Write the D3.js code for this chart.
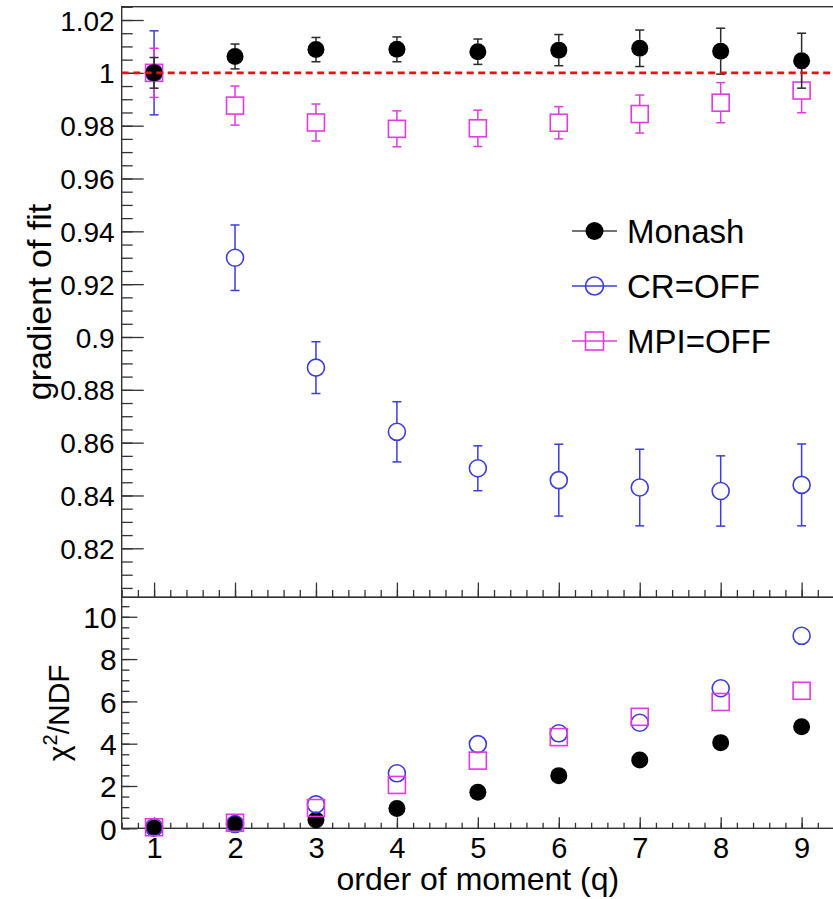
<!DOCTYPE html>
<html>
<head>
<meta charset="utf-8">
<script src="https://cdn.jsdelivr.net/npm/d3@7"></script>
<style>
  html, body { margin: 0; padding: 0; background: #fff; }
  svg { display: block; }
</style>
</head>
<body>
<svg id="chart" width="833" height="899"></svg>
<script>
// ---------------- data ----------------
const q = [1, 2, 3, 4, 5, 6, 7, 8, 9];

const monashGrad    = [1.0000, 1.0062, 1.0088, 1.0089, 1.0080, 1.0086, 1.0093, 1.0082, 1.0046];
const monashGradErr = [0.0058, 0.0047, 0.0046, 0.0047, 0.0048, 0.0059, 0.0069, 0.0087, 0.0104];

const crGrad    = [1.0000, 0.9300, 0.8884, 0.8641, 0.8503, 0.8458, 0.8430, 0.8417, 0.8440];
const crGradErr = [0.0159, 0.0124, 0.0098, 0.0114, 0.0085, 0.0136, 0.0145, 0.0133, 0.0155];

const mpiGrad    = [1.0000, 0.9876, 0.9812, 0.9788, 0.9790, 0.9811, 0.9844, 0.9887, 0.9933];
const mpiGradErr = [0.0093, 0.0074, 0.0070, 0.0068, 0.0069, 0.0061, 0.0072, 0.0076, 0.0084];

const monashChi2 = [0.00, 0.20, 0.39, 0.94, 1.70, 2.49, 3.23, 4.05, 4.80];
const crChi2     = [0.05, 0.20, 1.13, 2.60, 3.98, 4.49, 4.99, 6.62, 9.10];
const mpiChi2    = [0.05, 0.26, 0.96, 2.05, 3.20, 4.31, 5.27, 5.97, 6.50];

const seriesNames = ["Monash", "CR=OFF", "MPI=OFF"];
const topTickValues = [0.82, 0.84, 0.86, 0.88, 0.9, 0.92, 0.94, 0.96, 0.98, 1, 1.02];
const topTickLabels = ["0.82", "0.84", "0.86", "0.88", "0.9", "0.92", "0.94", "0.96", "0.98", "1", "1.02"];
const botTickValues = [0, 2, 4, 6, 8, 10];
const botTickLabels = ["0", "2", "4", "6", "8", "10"];
const xTickLabels = ["1", "2", "3", "4", "5", "6", "7", "8", "9"];
const refValue = 1;

// ---------------- styling ----------------
const FONT = "'Liberation Sans', Arial, Helvetica, sans-serif";
const colors = { "Monash": "#000000", "CR=OFF": "#3c3cdc", "MPI=OFF": "#e23ae2" };
const barColors = { "Monash": "#2a2a2a", "CR=OFF": "#3c3cdc", "MPI=OFF": "#e23ae2" };
const markerR = 8.5, squareHalf = 8.5, capHalf = 4.5;

const svg = d3.select("#chart");

// layout
const left = 121.7, right = 834;
const topY0 = 6.7, topY1 = 597.3;
const botY0 = 597.3, botY1 = 828.3;

const x = d3.scaleLinear().domain([0.6, 9.4]).range([left, right]);
const yTop = d3.scaleLinear().domain([0.80145, 1.02504]).range([topY1, topY0]);
const yBot = d3.scaleLinear().domain([0, 10.92]).range([botY1, botY0]);

const axisColor = "#333";

// ---------------- frames ----------------
function frame(y0, y1) {
  svg.append("rect")
    .attr("x", left).attr("y", y0)
    .attr("width", right - left).attr("height", y1 - y0)
    .attr("fill", "none").attr("stroke", axisColor).attr("stroke-width", 1.4);
}

// ---------------- axes ----------------
function styleAxis(g, fs) {
  g.select(".domain").remove();
  g.selectAll(".tick line").attr("stroke", axisColor).attr("stroke-width", 1.3);
  g.selectAll("text").attr("font-family", FONT).attr("font-size", fs).attr("fill", "#000");
}

// top panel y axis
const topMinor = d3.range(0.805, 1.0251, 0.005);
svg.append("g").attr("transform", `translate(${left},0)`)
  .call(d3.axisLeft(yTop).tickValues(topMinor).tickSize(-11).tickFormat(""))
  .call(g => styleAxis(g, 28));
svg.append("g").attr("transform", `translate(${left},0)`)
  .call(d3.axisLeft(yTop).tickValues(topTickValues).tickSize(-22).tickPadding(7)
        .tickFormat((d, i) => topTickLabels[i]))
  .call(g => styleAxis(g, 28))
  .call(g => g.selectAll("text").attr("dy", "0.36em"));

// top panel x axis (ticks only)
const xMinor = d3.range(0.6, 9.41, 0.2);
svg.append("g").attr("transform", `translate(0,${topY1})`)
  .call(d3.axisBottom(x).tickValues(xMinor).tickSize(-7.3).tickFormat(""))
  .call(g => styleAxis(g, 28));
svg.append("g").attr("transform", `translate(0,${topY1})`)
  .call(d3.axisBottom(x).tickValues(q).tickSize(-14.7).tickFormat(""))
  .call(g => styleAxis(g, 28));

// bottom panel y axis
const botMinor = d3.range(0, 10.9, 0.5);
svg.append("g").attr("transform", `translate(${left},0)`)
  .call(d3.axisLeft(yBot).tickValues(botMinor).tickSize(-7.7).tickFormat(""))
  .call(g => styleAxis(g, 29));
svg.append("g").attr("transform", `translate(${left},0)`)
  .call(d3.axisLeft(yBot).tickValues(botTickValues).tickSize(-15.7).tickPadding(5)
        .tickFormat((d, i) => botTickLabels[i]))
  .call(g => styleAxis(g, 30))
  .call(g => g.selectAll("text").attr("dy", "0.36em"));

// bottom panel x axis
svg.append("g").attr("transform", `translate(0,${botY1})`)
  .call(d3.axisBottom(x).tickValues(xMinor).tickSize(-5.5).tickFormat(""))
  .call(g => styleAxis(g, 29));
svg.append("g").attr("transform", `translate(0,${botY1})`)
  .call(d3.axisBottom(x).tickValues(q).tickSize(-11).tickPadding(9)
        .tickFormat((d, i) => xTickLabels[i]))
  .call(g => styleAxis(g, 29));

frame(topY0, topY1);
frame(botY0, botY1);

// ---------------- axis titles ----------------
svg.append("text")
  .attr("x", (left + right) / 2).attr("y", 890)
  .attr("text-anchor", "middle")
  .attr("font-family", FONT).attr("font-size", 32)
  .text("order of moment (q)");

svg.append("text")
  .attr("transform", `translate(51,${(topY0 + topY1) / 2}) rotate(-90)`)
  .attr("text-anchor", "middle")
  .attr("font-family", FONT).attr("font-size", 34)
  .text("gradient of fit");

const chiT = svg.append("text")
  .attr("transform", `translate(69,${(botY0 + botY1) / 2}) rotate(-90)`)
  .attr("text-anchor", "middle")
  .attr("font-family", FONT).attr("font-size", 30);
chiT.append("tspan").text("χ");
chiT.append("tspan").attr("font-size", 20).attr("dy", -12).text("2");
chiT.append("tspan").attr("dy", 12).text("/NDF");

// ---------------- markers ----------------
function drawMarker(g, name, cx, cy, r) {
  const c = colors[name];
  if (name === "Monash") {
    g.append("circle").attr("cx", cx).attr("cy", cy).attr("r", r).attr("fill", c);
  } else if (name === "CR=OFF") {
    g.append("circle").attr("cx", cx).attr("cy", cy).attr("r", r)
      .attr("fill", "none").attr("stroke", c).attr("stroke-width", 1.6);
  } else {
    g.append("rect").attr("x", cx - r).attr("y", cy - r)
      .attr("width", 2 * r).attr("height", 2 * r)
      .attr("fill", "none").attr("stroke", c).attr("stroke-width", 1.6);
  }
}

function drawGradSeries(name, vals, errs) {
  const g = svg.append("g");
  const bc = barColors[name];
  q.forEach((qq, i) => {
    const cx = x(qq), cy = yTop(vals[i]);
    const yHi = yTop(vals[i] + errs[i]), yLo = yTop(vals[i] - errs[i]);
    const r = name === "MPI=OFF" ? squareHalf : markerR;
    const segs = [[yHi, cy - r], [cy + r, yLo]];
    segs.forEach(([a, b]) => {
      if (b > a) g.append("line").attr("x1", cx).attr("x2", cx).attr("y1", a).attr("y2", b)
        .attr("stroke", bc).attr("stroke-width", 1.5);
    });
    [yHi, yLo].forEach(yy => g.append("line")
      .attr("x1", cx - capHalf).attr("x2", cx + capHalf).attr("y1", yy).attr("y2", yy)
      .attr("stroke", bc).attr("stroke-width", 1.5));
    drawMarker(g, name, cx, cy, r);
  });
}

drawGradSeries("CR=OFF", crGrad, crGradErr);
drawGradSeries("MPI=OFF", mpiGrad, mpiGradErr);
drawGradSeries("Monash", monashGrad, monashGradErr);

// reference line at 1
svg.append("line")
  .attr("x1", left).attr("x2", right)
  .attr("y1", yTop(refValue)).attr("y2", yTop(refValue))
  .attr("stroke", "#e01414").attr("stroke-width", 2.6)
  .attr("stroke-dasharray", "7,4.5");

// bottom panel points
function drawChiSeries(name, vals) {
  const g = svg.append("g");
  q.forEach((qq, i) => {
    const r = name === "MPI=OFF" ? squareHalf : markerR;
    drawMarker(g, name, x(qq), yBot(vals[i]), r);
  });
}
drawChiSeries("Monash", monashChi2);
drawChiSeries("CR=OFF", crChi2);
drawChiSeries("MPI=OFF", mpiChi2);

// ---------------- legend ----------------
const legendY = [231, 286, 341];
const lg = svg.append("g");
seriesNames.forEach((name, i) => {
  const cy = legendY[i];
  lg.append("line").attr("x1", 572).attr("x2", 617).attr("y1", cy).attr("y2", cy)
    .attr("stroke", name === "Monash" ? "#444" : colors[name]).attr("stroke-width", 1.5);
  drawMarker(lg, name, 594.5, cy, 9);
  lg.append("text").attr("x", 627).attr("y", cy).attr("dy", "0.36em")
    .attr("font-family", FONT).attr("font-size", 33).text(name);
});
</script>
</body>
</html>
